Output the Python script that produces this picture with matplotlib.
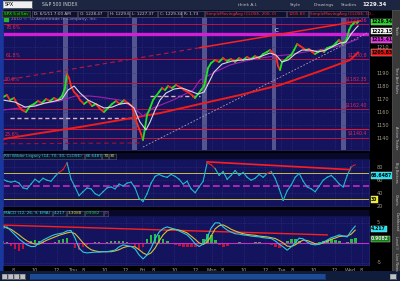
import matplotlib
matplotlib.use('Agg')
import matplotlib.pyplot as plt
import numpy as np

W, H = 400, 281

def rect(x0, y0, x1, y1):
    # pixel box -> figure fraction
    return [x0 / W, 1 - y1 / H, (x1 - x0) / W, (y1 - y0) / H]

# ---------------- data ----------------
# x is hours counted from the first bar, 6.5 h per session
price_t = [0.00, 0.37, 0.65, 1.03, 1.40, 1.78, 2.15, 2.52, 2.90, 3.27, 3.64, 4.02, 4.39, 4.77,
           5.14, 5.51, 5.79, 5.98, 6.17, 6.36, 6.64, 6.92, 7.20, 7.57, 7.94, 8.32, 8.69, 9.07,
           9.44, 9.81, 10.19, 10.56, 10.93, 11.31, 11.68, 12.06, 12.34, 12.62, 12.90, 13.08,
           13.27, 13.46, 13.74, 14.02, 14.30, 14.58, 14.86, 15.14, 15.42, 15.79, 16.17, 16.54,
           16.92, 17.29, 17.66, 17.94, 18.22, 18.50, 18.79, 18.97, 19.16, 19.44, 19.81, 20.19,
           20.56, 20.93, 21.31, 21.68, 22.06, 22.43, 22.80, 23.18, 23.55, 23.93, 24.30, 24.67,
           24.95, 25.23, 25.51, 25.70, 25.89, 26.07, 26.36, 26.64, 26.92, 27.20, 27.48, 27.76,
           28.04, 28.32, 28.60, 28.88, 29.16, 29.44, 29.72, 30.00, 30.28, 30.56, 30.84, 31.12,
           31.40, 31.68, 31.96, 32.15, 32.34, 32.52, 32.71, 32.90, 33.08, 33.18]
price_v = [1171.5, 1173.1, 1169.2, 1170.8, 1165.4, 1161.5, 1160.0, 1164.6, 1166.2, 1168.5,
           1166.9, 1170.0, 1168.5, 1170.8, 1169.2, 1172.3, 1178.5, 1189.2, 1186.2, 1180.0,
           1175.4, 1173.1, 1169.2, 1166.2, 1168.5, 1164.6, 1166.2, 1162.3, 1160.0, 1163.1,
           1166.2, 1168.5, 1166.2, 1169.2, 1166.9, 1164.6, 1155.4, 1149.2, 1143.1, 1138.5,
           1147.7, 1157.7, 1163.1, 1169.2, 1172.3, 1175.4, 1178.5, 1176.9, 1180.0, 1178.5,
           1180.8, 1179.2, 1176.9, 1175.4, 1173.1, 1170.8, 1173.8, 1176.9, 1180.0, 1186.2,
           1193.8, 1197.7, 1200.0, 1198.5, 1201.5, 1199.2, 1200.8, 1198.5, 1201.5, 1200.0,
           1202.3, 1200.8, 1203.1, 1201.5, 1204.6, 1206.2, 1207.7, 1205.4, 1203.1, 1195.4,
           1192.3, 1198.5, 1200.0, 1202.3, 1203.8, 1207.7, 1212.3, 1210.8, 1209.2, 1207.7,
           1208.5, 1206.2, 1204.6, 1206.2, 1207.7, 1206.2, 1209.2, 1210.0, 1210.8, 1213.1,
           1215.4, 1212.3, 1213.8, 1216.9, 1223.1, 1226.2, 1227.7, 1229.2, 1228.5, 1229.3]

fast_t = [0.00, 1.12, 2.06, 2.99, 3.93, 4.86, 5.51, 6.07, 6.64, 7.20, 7.94, 8.69, 9.44, 10.19,
          10.93, 11.68, 12.24, 12.80, 13.36, 13.74, 14.21, 14.67, 15.23, 15.98, 16.73, 17.48,
          18.22, 18.79, 19.16, 19.72, 20.47, 21.40, 22.34, 23.27, 24.21, 24.95, 25.51, 26.07,
          26.64, 27.29, 27.94, 28.69, 29.44, 30.19, 30.93, 31.50, 32.06, 32.52, 32.99, 33.18]
fast_v = [1169.2, 1167.7, 1163.8, 1164.6, 1166.9, 1168.5, 1170.0, 1176.9, 1180.0, 1174.6,
          1169.2, 1166.2, 1163.1, 1163.8, 1166.2, 1166.9, 1163.1, 1152.3, 1146.2, 1152.3,
          1161.5, 1169.2, 1174.6, 1177.7, 1178.5, 1176.2, 1173.8, 1175.4, 1181.5, 1190.8,
          1196.9, 1199.2, 1200.0, 1200.8, 1203.1, 1205.4, 1203.8, 1198.5, 1200.0, 1204.6,
          1207.7, 1207.7, 1206.2, 1207.7, 1210.8, 1213.1, 1213.8, 1220.0, 1224.6, 1226.2]

slow_t = [0.00, 1.59, 3.46, 5.33, 6.73, 8.13, 9.07, 10.93, 12.15, 13.08, 14.02, 15.89, 17.76,
          18.41, 19.81, 21.21, 22.62, 24.02, 25.42, 26.82, 28.22, 29.63, 31.03, 32.43, 33.18]
slow_v = [1161.5, 1163.1, 1166.2, 1168.5, 1172.3, 1172.3, 1171.5, 1169.2, 1163.8, 1156.9,
          1163.1, 1169.2, 1176.9, 1184.6, 1190.8, 1196.2, 1199.2, 1201.5, 1203.1, 1204.2,
          1206.2, 1207.7, 1210.0, 1213.8, 1216.2]

sma200_t = [0.00, 3.46, 7.20, 10.93, 14.67, 18.41, 22.15, 25.89, 29.63, 32.43, 33.18]
sma200_v = [1139.2, 1143.8, 1148.5, 1153.8, 1159.2, 1166.2, 1173.1, 1180.8, 1191.5, 1200.0, 1205.8]

fib_levels = [1227.36, 1200.8, 1182.35, 1162.40, 1140.4]
fib_pct = ['78.6%', '61.8%', '50.0%', '', '23.6%']
fib_price = ['$1227.36', '$1200.8', '$1182.35', '$1162.40', '$1140.4']

# indicator samples, one every STEP hours from the first bar
STEP = 0.374
rsi_v = [61.1, 58.1, 56.7, 58.1, 55.2, 47.8, 46.3, 53.7, 61.1, 56.7, 62.6, 59.6, 58.1, 65.6,
         71.5, 75.9, 86.3, 61.1, 49.3, 35.9, 41.9, 47.8, 46.3, 38.9, 35.9, 41.9, 47.8, 49.3,
         46.3, 53.7, 50.7, 55.2, 56.7, 47.8, 31.5, 27.0, 38.9, 55.2, 65.6, 68.5, 65.6, 64.1,
         68.5, 65.6, 61.1, 53.7, 58.1, 46.3, 40.4, 49.3, 58.1, 86.3, 83.3, 77.4, 67.0, 73.0,
         61.1, 67.0, 74.4, 67.0, 71.5, 64.1, 59.6, 62.6, 68.5, 64.1, 70.0, 73.0, 62.6, 46.3,
         28.5, 43.3, 52.2, 64.1, 70.0, 58.1, 49.3, 46.3, 41.9, 50.7, 59.6, 64.1, 67.0, 61.1,
         53.7, 49.3, 67.0, 80.4, 83.3]
macd_v = [3.6, 3.9, 2.9, 1.9, 0.9, 0.1, -0.6, -1.0, -1.0, -0.1, 0.6, 1.1, 1.6, 2.0, 2.2, 2.4,
          2.9, 3.0, 1.1, -1.4, -2.4, -2.6, -2.5, -2.4, -2.4, -2.3, -2.3, -2.1, -1.9, -1.1, -0.6,
          -0.8, -1.0, -1.6, -3.1, -4.1, -3.1, -1.4, 0.9, 2.6, 3.5, 3.9, 3.6, 3.3, 2.9, 2.4, 1.9,
          0.9, -0.3, -1.0, -0.4, 1.1, 3.6, 4.9, 4.9, 3.9, 3.1, 2.6, 2.2, 2.1, 1.9, 1.8, 1.6, 1.5,
          1.4, 1.2, 1.1, 1.0, 0.4, -0.4, -1.1, -1.9, -1.1, -0.1, 1.1, 0.9, 0.1, -0.4, -0.6, -0.4,
          0.1, 0.6, 1.2, 1.5, 1.9, 1.6, 1.4, 2.9, 4.1]
signal_v = [4.1, 3.6, 3.3, 2.6, 1.9, 1.1, 0.4, -0.1, -0.4, -0.4, 0.1, 0.6, 1.0, 1.4, 1.8, 2.1,
            2.4, 2.6, 2.2, 1.1, -0.1, -1.1, -1.8, -2.1, -2.3, -2.3, -2.3, -2.3, -2.1, -1.8, -1.3,
            -1.0, -1.0, -1.1, -1.8, -2.6, -3.1, -2.6, -1.4, 0.4, 1.9, 2.9, 3.3, 3.3, 3.1, 2.8, 2.4,
            1.6, 0.8, -0.1, -0.5, 0.1, 1.6, 3.4, 4.2, 4.4, 3.9, 3.3, 2.9, 2.5, 2.2, 2.0, 1.9, 1.8,
            1.6, 1.5, 1.4, 1.2, 1.0, 0.5, -0.1, -0.9, -1.0, -0.6, 0.1, 0.6, 0.5, 0.1, -0.3, -0.4,
            -0.1, 0.3, 0.8, 1.1, 1.5, 1.6, 1.6, 2.1, 3.1]
hist_v = [0.4, 0.2, -0.8, -1.6, -2.0, -1.5, -0.6, 0.3, 0.6, 0.5, 0.2, -0.2, -0.1, 0.2, 0.6,
          1.0, 1.2, -0.2, -1.4, -1.8, -1.2, -0.5, -0.1, 0.2, 0.1, -0.2, 0.2, 0.3, 0.5, 0.5, 0.4,
          0.1, -0.4, -1.2, -1.6, -1.0, 0.8, 1.8, 2.2, 1.8, 1.0, 0.4, -0.2, -0.5, -0.8, -1.0, -1.0,
          -1.2, -1.0, -0.4, 1.0, 2.2, 2.0, 0.6, -0.6, -1.2, -0.9, -0.4, -0.2, 0.2, -0.1, -0.2,
          -0.1, 0.1, 0.2, 0.0, -0.2, -0.6, -1.0, -1.3, -0.5, 0.5, 1.0, 0.8, 0.3, -0.2, -0.4, -0.5,
          -0.3, 0.1, 0.4, 0.6, 0.8, 0.6, 0.4, -0.4, 0.2, 1.0, 1.2]

day_names = ['', 'Thu', 'Fri', 'Mon', 'Tue', 'Wed']
hour_marks = [8, 10, 12]

# ---------------- colours ----------------
NAVY = '#14145e'
GRID = '#34347e'
AXTXT = '#a89c84'
FIB = '#c0143c'

fig = plt.figure(figsize=(4.0, 2.81), dpi=100)
fig.patch.set_facecolor('#000000')

XMAX = 34.2
ticks, tlabels = [], []
for k, name in enumerate(day_names):
    if name:
        ticks.append(6.5 * k)
        tlabels.append(name)
    for hh in hour_marks:
        t = 6.5 * k + hh - 7
        if t < XMAX:
            ticks.append(t)
            tlabels.append(str(hh))


def style(ax):
    ax.set_facecolor(NAVY)
    ax.set_xlim(0, XMAX)
    for s in ax.spines.values():
        s.set_color('#26267a')
        s.set_linewidth(0.6)
    ax.set_xticks(ticks)
    ax.grid(True, color=GRID, linestyle=(0, (1, 1.5)), linewidth=0.5)
    ax.tick_params(axis='y', left=False, right=False, labelleft=False, labelright=True,
                   labelsize=3.6, colors=AXTXT, pad=2)
    ax.tick_params(axis='x', bottom=False, labelbottom=False)


def vlabel(ax, y, txt, fc, tc='black', dy=0):
    ax.annotate(txt, (1.006, y), xycoords=ax.get_yaxis_transform(), xytext=(0, dy),
                textcoords='offset points', fontsize=3.3, color=tc, va='center', ha='left',
                fontweight='bold', annotation_clip=False,
                bbox=dict(boxstyle='square,pad=0.15', fc=fc, ec='#dddddd', lw=0.3))


# ---------------- price panel ----------------
ax = fig.add_axes(rect(3, 17, 369, 150))
style(ax)
ax.set_ylim(1130.8, 1233.1)
ax.set_yticks([1140, 1150, 1160, 1170, 1180, 1190, 1210])
ax.set_yticklabels(['1140', '1150', '1160', '1170', '1180', '1190', '1210'])

for k in range(1, 6):
    ax.axvspan(6.5 * k - 0.9, 6.5 * k - 0.45, color='#8a8ab8', alpha=0.55, lw=0, zorder=1)

for lev, pct, lab in zip(fib_levels, fib_pct, fib_price):
    ax.axhline(lev, color=FIB, lw=0.7, zorder=2)
    if pct == '78.6%':
        ax.text(0.2, lev - 0.2, pct, color='#e02850', fontsize=3.4, va='top', zorder=6)
    elif pct:
        ax.text(0.2, lev + 0.6, pct, color='#e02850', fontsize=3.4, va='bottom', zorder=6)
    ax.text(34.0, lev + 0.8, lab, color='#e02850', fontsize=3.4, va='bottom', ha='right', zorder=6)
ax.axhline(1146.9, color='#e01838', lw=0.8, zorder=2)
ax.axhline(1220.0, color='#d41ed4', lw=2.4, zorder=2)

# channel and trend lines
ax.plot([0, 18.4], [1184.2, 1209.5], color='#c0143c', lw=0.8, ls=(0, (4, 3)), zorder=3)
ax.plot([18.4, 33.4], [1209.5, 1230.2], color='#ff2020', lw=1.1, zorder=3)
ax.plot([0, 13.0], [1135.6, 1136.2], color='#a01030', lw=0.8, ls=(0, (4, 3)), zorder=3)
ax.plot([13.08, 34.02], [1133.1, 1220.8], color='#b0a0b8', lw=0.6, ls=(0, (2, 2)), zorder=3)
ax.plot([0.65, 12.5], [1155.4, 1155.4], color='#e0b0c0', lw=1.0, ls=(0, (3, 2)), zorder=3)
ax.plot([13.7, 18.4], [1172.3, 1172.3], color='#e0b0c0', lw=1.0, ls=(0, (3, 2)), zorder=3)

ax.plot(sma200_t, sma200_v, color='#ee1c1c', lw=1.4, zorder=4)
ax.plot(slow_t, slow_v, color='#a020b0', lw=0.8, zorder=4)

for i in range(len(price_t) - 1):
    c = '#22e022' if price_v[i + 1] >= price_v[i] else '#ff2a1a'
    ax.plot(price_t[i:i + 2], price_v[i:i + 2], color=c, lw=1.3, zorder=5,
            solid_capstyle='round')
ax.plot(fast_t, fast_v, color='#d8d8e0', lw=0.8, zorder=6)

ax.text(25.6, 1223.1, 'C', color='white', fontsize=4, zorder=7, ha='center', va='center')
ax.text(0.75, 1233.0, '2010 \u00a9 TD Ameritrade IP Company, Inc.', color='#9898b0',
        fontsize=3.1, va='top', zorder=7)
ax.add_patch(plt.Rectangle((0.05, 1229.9), 0.45, 2.6, color='#30b030', zorder=7))

vlabel(ax, 1229.34, '1229.34', '#20d020')
vlabel(ax, 1222.15, '1222.15', '#f0f0f0')
vlabel(ax, 1215.41, '1215.41', '#e020e0')
vlabel(ax, 1205.83, '1205.83', '#e01010')

# ---------------- RSI panel ----------------
ind_t = np.arange(len(rsi_v)) * STEP
ax2 = fig.add_axes(rect(3, 159, 369, 206))
style(ax2)
ax2.set_ylim(22.6, 92.2)
ax2.set_yticks([20, 40, 60, 80])
ax2.set_yticklabels(['20', '40', '60', '80'])
ax2.axhline(70, color='#c8c040', lw=0.7)
ax2.axhline(30, color='#c8c040', lw=0.7)
ax2.axhline(50, color='#c828c8', lw=1.2, ls=(0, (4, 2)))
for i in range(len(rsi_v) - 1):
    c = '#e02020' if min(rsi_v[i], rsi_v[i + 1]) > 68 else '#20b8cc'
    ax2.plot(ind_t[i:i + 2], rsi_v[i:i + 2], color=c, lw=0.8)
ax2.plot([19.07, 32.43], [87.8, 75.9], color='#ff1e1e', lw=1.2)
vlabel(ax2, 66.65, '66.6487', '#20e0f0')
vlabel(ax2, 30, '30', '#f0f020')

# ---------------- MACD panel ----------------
ax3 = fig.add_axes(rect(3, 216, 369, 265))
style(ax3)
ax3.set_ylim(-5.625, 6.625)
ax3.set_yticks([-5, 5])
ax3.set_yticklabels(['-5', '5'])
hcol = ['#20c040' if v >= 0 else '#c0103c' for v in hist_v]
ax3.bar(ind_t[:len(hist_v)], hist_v, width=STEP * 0.7, color=hcol, zorder=3)
ax3.axhline(0, color='#c828c8', lw=0.8, zorder=4)
ax3.plot([0, 30.3], [4.35, 1.9], color='#ff1e1e', lw=1.0, zorder=4)
ax3.plot(ind_t, signal_v, color='#d8c038', lw=0.8, zorder=5)
ax3.plot(ind_t, macd_v, color='#30c8e0', lw=0.8, zorder=6)
ax3.tick_params(axis='x', labelbottom=True, labelsize=3.6, colors=AXTXT, pad=2, length=0)
ax3.set_xticklabels(tlabels)
vlabel(ax3, 4.217, '4.217', '#20e0f0', dy=-2.2)
vlabel(ax3, 0.9082, '0.9082', '#108010', tc='#e0e0e0')

# ---------------- chrome: headers, strips ----------------
def band(x0, y0, x1, y1, fc, ec='none'):
    a = fig.add_axes(rect(x0, y0, x1, y1))
    a.set_facecolor(fc)
    a.set_xticks([])
    a.set_yticks([])
    for s in a.spines.values():
        s.set_color(ec if ec != 'none' else fc)
        s.set_linewidth(0.4)
    return a


def ftext(x, y, txt, color, size=3.4, **kw):
    fig.text(x / W, 1 - y / H, txt, color=color, fontsize=size, va='center', **kw)


band(0, 0, 400, 9.5, '#1c2640')
band(0, 9.5, 369, 17, '#08082a')
band(0, 0, 2.5, 271, '#1838a0')
band(3, 1, 32, 8, '#f0f0f0', '#808080')
ftext(5, 4.6, 'SPX', '#000000', 3.4)
ftext(42, 4.6, 'S&P 500 INDEX', '#d0d0d0', 3.3)
ftext(238, 4.6, 'think A.I.', '#c0c0c0', 3.2)
ftext(290, 4.6, 'Style', '#c0c0c0', 3.2)
ftext(314, 4.6, 'Drawings', '#c0c0c0', 3.2)
ftext(341, 4.6, 'Studies', '#c0c0c0', 3.2)
ftext(362, 4.6, '1229.34', '#f0f0f0', 3.9, fontweight='bold')

heads = [(2, 30, 'SPX 5 d 5m', '#30e030', '#0c300c'),
         (32, 77, 'D: 6/1/11 7:00 AM', '#c8c8c8', '#10102c'),
         (78, 107, 'O: 1228.47', '#c8c8c8', '#10102c'),
         (108, 129, 'H: 1229.6', '#c8c8c8', '#10102c'),
         (130, 157, 'L: 1227.37', '#c8c8c8', '#10102c'),
         (158, 181, 'C: 1229.34', '#c8c8c8', '#10102c'),
         (182, 204, 'R: 1.73', '#c8c8c8', '#10102c'),
         (205, 286, 'SimpleMovingAvg (CLOSE, 200, 0)', '#f03030', '#10102c'),
         (287, 308, '1205.83', '#f03030', '#10102c'),
         (309, 368, 'SimpleMovingAvg (CLOSE, 10...', '#f03030', '#10102c')]
for x0, x1, txt, tc, fc in heads:
    band(x0, 10.5, x1, 16.5, fc, '#5a5a70')
    ftext(x0 + 1.5, 13.6, txt, tc, 3.0)

band(3, 153, 369, 159, '#08082a')
for x0, x1, txt, tc in [(3, 84, 'RSI Wilder Legacy (14, 70, 30, CLOSE)', '#30c8d8'),
                        (85, 101, '66.6487', '#30c8d8'), (102, 108, '70', '#d8d040'),
                        (109, 116, '30', '#d8d040')]:
    band(x0, 153.5, x1, 158.5, '#0a1430', '#5a5a70')
    ftext(x0 + 1.2, 156, txt, tc, 3.0)

band(3, 210, 369, 216, '#08082a')
for x0, x1, txt, tc in [(3, 52, 'MACD (12, 26, 9, EMA)', '#30c8d8'),
                        (53, 66, '4.217', '#30c8d8'), (67, 84, '3.3088', '#d8d040'),
                        (85, 103, '0.9082', '#30c040'), (104, 108, '0', '#d030d0')]:
    band(x0, 210.5, x1, 215.5, '#0a1430', '#5a5a70')
    ftext(x0 + 1.2, 213, txt, tc, 3.0)

side = band(392, 9.5, 400, 271, '#3a3a3a', '#555555')
for y, txt in [(30, 'Trade'), (80, 'Time And Sales'), (138, 'Active Trader'),
               (172, 'Big Buttons'), (200, 'Charts'), (222, 'Dashboard'), (242, 'Level II'),
               (262, 'Live News')]:
    ftext(396.2, y, txt, '#c8c8c8', 2.5, rotation=270, ha='center')

band(0, 271, 400, 281, '#101c3c')
band(30, 273.5, 325, 278.5, '#1c4a94')
for x0 in [2, 8, 14, 20]:
    band(x0, 273.5, x0 + 5, 278.5, '#c0c0c8', '#808080')
band(390, 273.5, 396, 278.5, '#c0c0c8', '#808080')

fig.savefig('out.png', dpi=100, facecolor=fig.get_facecolor())
